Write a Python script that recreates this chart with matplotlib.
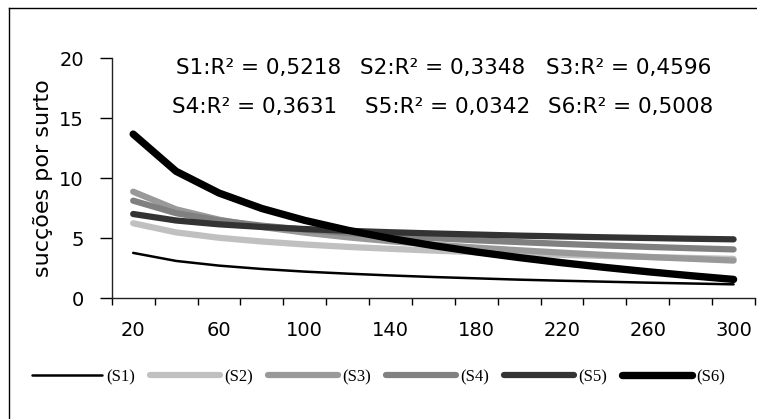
import numpy as np
import matplotlib
matplotlib.use("Agg")
import matplotlib.pyplot as plt
from matplotlib.lines import Line2D

# Data ------------------------------------------------------------------------
categories = [20, 40, 60, 80, 100, 120, 140, 160, 180, 200, 220, 240, 260, 280, 300]
tick_labels = ["20", "", "60", "", "100", "", "140", "", "180", "", "220", "", "260", "", "300"]

s1 = [3.80, 3.13, 2.74, 2.46, 2.24, 2.07, 1.92, 1.79, 1.68, 1.57, 1.48, 1.40, 1.32, 1.25, 1.18]
s2 = [6.27, 5.51, 5.06, 4.75, 4.50, 4.30, 4.14, 3.99, 3.86, 3.74, 3.64, 3.54, 3.46, 3.38, 3.30]
s3 = [8.90, 7.43, 6.57, 5.96, 5.49, 5.10, 4.77, 4.49, 4.24, 4.02, 3.82, 3.63, 3.46, 3.31, 3.16]
s4 = [8.15, 7.11, 6.50, 6.07, 5.74, 5.46, 5.23, 5.03, 4.85, 4.70, 4.55, 4.42, 4.30, 4.19, 4.09]
s5 = [7.04, 6.50, 6.18, 5.96, 5.79, 5.64, 5.52, 5.42, 5.33, 5.24, 5.17, 5.10, 5.04, 4.98, 4.93]
s6 = [13.70, 10.60, 8.79, 7.50, 6.51, 5.69, 5.00, 4.41, 3.88, 3.41, 2.98, 2.59, 2.23, 1.90, 1.59]

series_names = ["(S1)", "(S2)", "(S3)", "(S4)", "(S5)", "(S6)"]
r2_labels = ["S1:R² = 0,5218", "S2:R² = 0,3348", "S3:R² = 0,4596",
             "S4:R² = 0,3631", "S5:R² = 0,0342", "S6:R² = 0,5008"]

# Style -----------------------------------------------------------------------
colors = ["#000000", "#c0c0c0", "#999999", "#808080", "#333333", "#000000"]
widths = [1.8, 4.5, 4.5, 4.5, 4.5, 5.3]

plt.rcParams["font.family"] = ["DejaVu Sans"]

fig = plt.figure(figsize=(7.57, 4.19), dpi=100)
ax = fig.add_axes([0.1476, 0.2876, 0.8498, 0.5728])

x = np.arange(len(categories))
for vals, c, w, name in zip([s1, s2, s3, s4, s5, s6], colors, widths, series_names):
    ax.plot(x, vals, color=c, lw=w, solid_capstyle="round", label=name)

ax.set_xlim(-0.5, len(categories) - 0.5)
ax.set_ylim(0, 20)
ax.set_yticks([0, 5, 10, 15, 20])
ax.tick_params(axis="y", direction="out", length=9, width=1, pad=11, labelsize=14)

# category boundaries carry the tick marks, labels sit at centres
ax.set_xticks(np.arange(-0.5, len(categories), 1.0))
ax.set_xticklabels([])
ax.tick_params(axis="x", which="major", direction="out", length=5, width=1)
ax.set_xticks(x, minor=True)
ax.set_xticklabels(tick_labels, minor=True)
ax.tick_params(axis="x", which="minor", length=0, pad=16, labelsize=14)

for side in ["top", "right"]:
    ax.spines[side].set_visible(False)
for side in ["left", "bottom"]:
    ax.spines[side].set_color("#222222")
    ax.spines[side].set_linewidth(1)

ax.set_ylabel("sucções por surto", fontsize=16)
ax.yaxis.set_label_coords(-0.092, 0.5)

# R² annotations
rows_y = [0.8235, 0.7296]
cols_x = [[0.2325, 0.4756, 0.7213], [0.2266, 0.4818, 0.7239]]
for k, lab in enumerate(r2_labels):
    r, cidx = divmod(k, 3)
    fig.text(cols_x[r][cidx], rows_y[r], lab, fontsize=15.5, ha="left", va="baseline")

# Legend
fig.legend(loc="center left", bbox_to_anchor=(0.022, 0.10), ncol=6, frameon=False,
           handlelength=4.2, handletextpad=0.3, columnspacing=0.85,
           prop={"family": "Liberation Serif", "size": 12})

# Partial outer frame (left and top)
fig.add_artist(Line2D([0.012, 0.012], [0.0, 0.981], color="black", lw=1))
fig.add_artist(Line2D([0.012, 1.0], [0.981, 0.981], color="black", lw=1))

fig.savefig("out.png", dpi=100)
